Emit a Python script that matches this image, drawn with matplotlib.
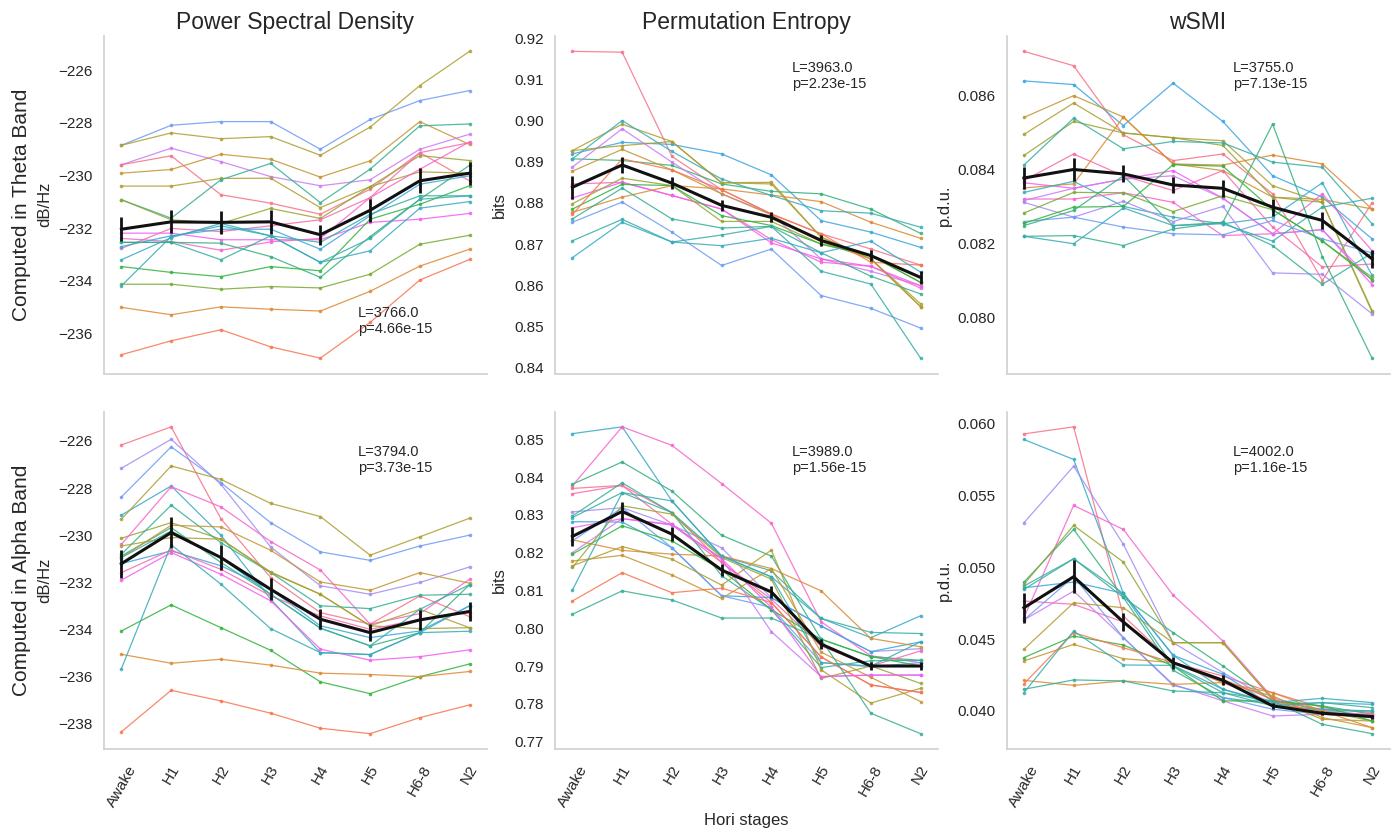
import matplotlib
matplotlib.use("Agg")
import matplotlib.pyplot as plt
import seaborn as sns
import numpy as np

plt.rcParams["font.family"] = ["Liberation Sans", "DejaVu Sans"]

STAGES = ["Awake", "H1", "H2", "H3", "H4", "H5", "H6-8", "N2"]

# ---------- Theta band ----------
THETA_PSD = [
    [-228.85, -228.09, -227.95, -227.95, -229.00, -227.87, -227.15, -226.77],
    [-228.85, -228.38, -228.60, -228.52, -229.23, -228.16, -226.58, -225.28],
    [-229.59, -228.96, -229.47, -230.04, -230.39, -230.16, -229.00, -228.43],
    [-229.59, -229.25, -230.73, -231.05, -231.47, -230.52, -229.13, -230.20],
    [-229.91, -229.77, -229.19, -229.38, -230.06, -229.44, -227.95, -228.82],
    [-230.40, -230.40, -230.11, -230.10, -231.22, -230.42, -229.86, -229.91],
    [-230.92, -231.62, -230.16, -229.54, -231.03, -229.76, -228.11, -228.04],
    [-230.92, -231.68, -231.82, -231.25, -231.63, -230.42, -229.24, -229.43],
    [-232.19, -232.19, -232.44, -232.44, -232.44, -231.78, -231.66, -231.44],
    [-232.39, -232.51, -232.84, -232.52, -232.39, -230.84, -229.76, -228.72],
    [-232.77, -232.01, -232.13, -231.91, -231.68, -230.84, -229.13, -228.75],
    [-232.70, -232.29, -232.04, -232.04, -232.80, -231.53, -230.33, -230.01],
    [-233.20, -232.36, -231.82, -232.29, -233.30, -232.86, -231.24, -230.99],
    [-232.54, -232.54, -233.20, -232.29, -232.54, -231.47, -230.77, -230.77],
    [-232.54, -232.54, -232.57, -233.08, -233.87, -232.32, -230.90, -229.61],
    [-233.46, -233.68, -233.84, -233.46, -233.62, -231.66, -231.09, -230.39],
    [-234.13, -234.13, -234.32, -234.22, -234.27, -233.75, -232.61, -232.27],
    [-234.19, -232.32, -231.91, -232.29, -233.30, -232.39, -230.90, -230.77],
    [-235.01, -235.29, -234.99, -235.08, -235.15, -234.40, -233.44, -232.80],
    [-236.81, -236.28, -235.86, -236.51, -236.94, -235.58, -233.97, -233.19],
]
THETA_PSD_COLORS = [14, 4, 16, 0, 3, 4, 9, 5, 17, 18, 19, 13, 12, 10, 8, 7, 6, 11, 2, 1]
THETA_PSD_MEAN = [-232.04, -231.76, -231.78, -231.76, -232.25, -231.32, -230.20, -229.91]
THETA_PSD_ERR = [0.45, 0.44, 0.44, 0.46, 0.38, 0.44, 0.48, 0.44]

THETA_PE = [
    [0.9168, 0.9166, 0.8913, 0.8832, 0.8773, 0.8725, 0.8688, 0.8649],
    [0.8927, 0.8991, 0.8949, 0.8849, 0.8850, 0.8717, 0.8664, 0.8555],
    [0.8919, 0.8947, 0.8942, 0.8919, 0.8868, 0.8757, 0.8729, 0.8692],
    [0.8907, 0.8903, 0.8891, 0.8846, 0.8828, 0.8822, 0.8785, 0.8726],
    [0.8887, 0.8980, 0.8899, 0.8822, 0.8773, 0.8664, 0.8634, 0.8599],
    [0.8877, 0.8930, 0.8880, 0.8822, 0.8771, 0.8705, 0.8664, 0.8548],
    [0.8846, 0.8850, 0.8818, 0.8785, 0.8711, 0.8656, 0.8646, 0.8593],
    [0.8812, 0.8850, 0.8818, 0.8785, 0.8703, 0.8664, 0.8646, 0.8599],
    [0.8798, 0.8860, 0.8842, 0.8755, 0.8755, 0.8700, 0.8672, 0.8607],
    [0.8785, 0.8845, 0.8842, 0.8769, 0.8745, 0.8700, 0.8672, 0.8607],
    [0.8777, 0.8814, 0.8842, 0.8834, 0.8819, 0.8803, 0.8753, 0.8714],
    [0.8772, 0.8907, 0.8880, 0.8832, 0.8773, 0.8725, 0.8656, 0.8649],
    [0.8761, 0.8836, 0.8761, 0.8739, 0.8743, 0.8679, 0.8622, 0.8579],
    [0.8753, 0.8802, 0.8729, 0.8648, 0.8688, 0.8575, 0.8544, 0.8496],
    [0.8708, 0.8760, 0.8705, 0.8722, 0.8743, 0.8634, 0.8603, 0.8423],
    [0.8667, 0.8753, 0.8705, 0.8696, 0.8714, 0.8679, 0.8707, 0.8632],
    [0.8907, 0.9000, 0.8925, 0.8858, 0.8818, 0.8781, 0.8775, 0.8741],
    [0.8927, 0.8939, 0.8949, 0.8849, 0.8846, 0.8717, 0.8664, 0.8548],
]
THETA_PE_COLORS = [0, 4, 13, 8, 16, 3, 18, 17, 5, 7, 2, 1, 9, 14, 10, 12, 11, 4]
THETA_PE_MEAN = [0.8838, 0.8892, 0.8848, 0.8794, 0.8765, 0.8709, 0.8672, 0.8619]
THETA_PE_ERR = [0.0028, 0.0020, 0.0015, 0.0014, 0.0012, 0.0014, 0.0014, 0.0016]

THETA_WSMI = [
    [0.08720, 0.08681, 0.08494, 0.08424, 0.08442, 0.08334, 0.08099, 0.08310],
    [0.08640, 0.08630, 0.08519, 0.08634, 0.08530, 0.08383, 0.08325, 0.08212],
    [0.08541, 0.08600, 0.08542, 0.08415, 0.08397, 0.08325, 0.08319, 0.08293],
    [0.08495, 0.08580, 0.08499, 0.08486, 0.08478, 0.08356, 0.08311, 0.08014],
    [0.08438, 0.08530, 0.08499, 0.08486, 0.08465, 0.08325, 0.08311, 0.08018],
    [0.08412, 0.08539, 0.08456, 0.08476, 0.08472, 0.08420, 0.08406, 0.08253],
    [0.08370, 0.08442, 0.08383, 0.08343, 0.08397, 0.08244, 0.08136, 0.08144],
    [0.08364, 0.08349, 0.08374, 0.08397, 0.08322, 0.08226, 0.08237, 0.08088],
    [0.08350, 0.08361, 0.08542, 0.08415, 0.08412, 0.08439, 0.08415, 0.08293],
    [0.08338, 0.08368, 0.08300, 0.08271, 0.08253, 0.08271, 0.08364, 0.08113],
    [0.08320, 0.08320, 0.08337, 0.08311, 0.08221, 0.08226, 0.08334, 0.08180],
    [0.08316, 0.08349, 0.08374, 0.08383, 0.08322, 0.08226, 0.08237, 0.08099],
    [0.08311, 0.08271, 0.08314, 0.08259, 0.08300, 0.08120, 0.08116, 0.08009],
    [0.08282, 0.08338, 0.08337, 0.08286, 0.08329, 0.08291, 0.08206, 0.08108],
    [0.08259, 0.08271, 0.08244, 0.08226, 0.08223, 0.08262, 0.08212, 0.08174],
    [0.08254, 0.08298, 0.08300, 0.08413, 0.08409, 0.08291, 0.08206, 0.08102],
    [0.08248, 0.08289, 0.08383, 0.08248, 0.08257, 0.08523, 0.08164, 0.07889],
    [0.08219, 0.08221, 0.08194, 0.08239, 0.08257, 0.08194, 0.08089, 0.08174],
    [0.08219, 0.08199, 0.08296, 0.08248, 0.08253, 0.08206, 0.08298, 0.08322],
]
THETA_WSMI_COLORS = [0, 13, 3, 4, 5, 10, 19, 17, 2, 12, 18, 16, 15, 6, 14, 7, 8, 9, 11]
THETA_WSMI_MEAN = [0.08377, 0.08400, 0.08388, 0.08358, 0.08349, 0.08298, 0.08262, 0.08158]
THETA_WSMI_ERR = [0.00030, 0.00032, 0.00023, 0.00023, 0.00023, 0.00023, 0.00023, 0.00025]

# ---------- Alpha band ----------
ALPHA_PSD = [
    [-226.17, -225.40, -229.30, -231.80, -233.29, -233.78, -232.58, -233.46],
    [-227.16, -225.93, -227.84, -230.50, -232.15, -232.51, -232.01, -231.35],
    [-228.38, -226.25, -227.77, -229.47, -230.71, -231.07, -230.46, -230.00],
    [-229.15, -227.91, -230.00, -232.72, -234.99, -235.07, -234.14, -233.00],
    [-229.32, -227.06, -227.63, -228.65, -229.21, -230.85, -230.07, -229.28],
    [-230.13, -229.47, -230.17, -231.56, -232.51, -233.85, -233.97, -233.93],
    [-230.39, -227.94, -228.80, -230.27, -231.48, -233.78, -233.33, -231.87],
    [-230.81, -228.73, -230.32, -231.59, -233.00, -233.12, -232.55, -232.51],
    [-230.88, -229.68, -231.16, -232.51, -233.95, -234.70, -234.14, -232.10],
    [-230.95, -229.58, -229.65, -230.64, -231.99, -232.34, -231.59, -232.04],
    [-231.21, -230.67, -231.30, -232.30, -233.85, -234.35, -234.07, -233.00],
    [-231.91, -230.74, -231.66, -232.79, -234.84, -235.31, -235.16, -234.87],
    [-231.59, -230.63, -231.45, -232.58, -233.43, -234.00, -233.57, -233.29],
    [-234.07, -232.96, -233.93, -234.89, -236.23, -236.73, -236.01, -235.47],
    [-235.06, -235.44, -235.27, -235.52, -235.86, -235.92, -236.01, -235.79],
    [-235.67, -230.41, -232.08, -233.97, -234.99, -235.07, -234.14, -234.08],
    [-238.35, -236.59, -237.04, -237.56, -238.20, -238.43, -237.75, -237.21],
    [-230.46, -230.10, -230.17, -231.59, -232.51, -233.85, -233.15, -233.93],
    [-230.95, -229.82, -230.95, -232.51, -233.95, -234.70, -233.15, -232.10],
]
ALPHA_PSD_COLORS = [0, 15, 14, 12, 4, 5, 18, 9, 8, 3, 13, 17, 19, 7, 2, 11, 1, 4, 10]
ALPHA_PSD_MEAN = [-231.21, -229.89, -230.95, -232.30, -233.57, -234.14, -233.60, -233.24]
ALPHA_PSD_ERR = [0.59, 0.64, 0.54, 0.47, 0.42, 0.35, 0.42, 0.40]

ALPHA_PE = [
    [0.8515, 0.8533, 0.8337, 0.8191, 0.8136, 0.8026, 0.7975, 0.8033],
    [0.8377, 0.8533, 0.8484, 0.8383, 0.8278, 0.8017, 0.7927, 0.7909],
    [0.8381, 0.8440, 0.8363, 0.8246, 0.8191, 0.7971, 0.7925, 0.7915],
    [0.8370, 0.8378, 0.8306, 0.8174, 0.8068, 0.7924, 0.7850, 0.7830],
    [0.8356, 0.8378, 0.8275, 0.8174, 0.8077, 0.7953, 0.7900, 0.7940],
    [0.8308, 0.8319, 0.8273, 0.8213, 0.8081, 0.8006, 0.7938, 0.7946],
    [0.8297, 0.8385, 0.8306, 0.8139, 0.8049, 0.7896, 0.7914, 0.7915],
    [0.8293, 0.8359, 0.8306, 0.8191, 0.8152, 0.8026, 0.7989, 0.7986],
    [0.8282, 0.8281, 0.8213, 0.8086, 0.8081, 0.8006, 0.7938, 0.7964],
    [0.8234, 0.8206, 0.8196, 0.8191, 0.8158, 0.8099, 0.7973, 0.7951],
    [0.8231, 0.8319, 0.8213, 0.8086, 0.8055, 0.7909, 0.7898, 0.7909],
    [0.8200, 0.8290, 0.8273, 0.8184, 0.7991, 0.7872, 0.7876, 0.7876],
    [0.8196, 0.8271, 0.8231, 0.8154, 0.8049, 0.7971, 0.7925, 0.7900],
    [0.8178, 0.8193, 0.8141, 0.8079, 0.8158, 0.7937, 0.7870, 0.7806],
    [0.8165, 0.8216, 0.8183, 0.8114, 0.8207, 0.7890, 0.7802, 0.7841],
    [0.8161, 0.8324, 0.8302, 0.8187, 0.8130, 0.7867, 0.7900, 0.7854],
    [0.8101, 0.8359, 0.8337, 0.8191, 0.8136, 0.7909, 0.7900, 0.7964],
    [0.8072, 0.8147, 0.8094, 0.8106, 0.8068, 0.7924, 0.7850, 0.7830],
    [0.8037, 0.8099, 0.8075, 0.8027, 0.8027, 0.7971, 0.7775, 0.7721],
    [0.8266, 0.8290, 0.8275, 0.8184, 0.8055, 0.7872, 0.7876, 0.7876],
]
ALPHA_PE_COLORS = [12, 18, 8, 0, 19, 15, 9, 10, 13, 2, 14, 16, 7, 3, 4, 5, 11, 1, 9, 17]
ALPHA_PE_MEAN = [0.8243, 0.8309, 0.8249, 0.8154, 0.8096, 0.7958, 0.7900, 0.7900]
ALPHA_PE_ERR = [0.0025, 0.0026, 0.0018, 0.0016, 0.0016, 0.0013, 0.0011, 0.0011]

ALPHA_WSMI = [
    [0.05928, 0.05977, 0.04661, 0.04336, 0.04243, 0.04127, 0.04023, 0.03988],
    [0.05889, 0.05750, 0.04818, 0.04387, 0.04151, 0.04046, 0.04058, 0.04046],
    [0.05309, 0.05703, 0.05159, 0.04475, 0.04267, 0.04070, 0.04012, 0.03965],
    [0.04649, 0.05430, 0.05263, 0.04806, 0.04487, 0.04093, 0.04000, 0.03954],
    [0.04897, 0.05263, 0.04790, 0.04545, 0.04313, 0.04070, 0.04035, 0.03977],
    [0.04857, 0.04897, 0.04818, 0.04387, 0.04255, 0.04035, 0.04012, 0.04000],
    [0.04846, 0.05059, 0.04790, 0.04283, 0.04093, 0.04046, 0.04000, 0.04000],
    [0.04765, 0.04742, 0.04619, 0.04336, 0.04197, 0.04058, 0.03988, 0.03977],
    [0.04633, 0.04834, 0.04510, 0.04185, 0.04070, 0.03965, 0.03977, 0.03954],
    [0.04633, 0.04934, 0.04510, 0.04178, 0.04093, 0.04012, 0.03977, 0.03965],
    [0.04881, 0.05291, 0.05036, 0.04475, 0.04475, 0.04081, 0.04000, 0.03930],
    [0.04429, 0.04753, 0.04718, 0.04475, 0.04475, 0.04081, 0.03942, 0.03930],
    [0.04348, 0.04463, 0.04364, 0.04336, 0.04197, 0.04104, 0.03954, 0.03884],
    [0.04371, 0.04521, 0.04459, 0.04313, 0.04070, 0.04070, 0.04035, 0.03930],
    [0.04213, 0.04178, 0.04209, 0.04185, 0.04197, 0.04127, 0.04000, 0.03884],
    [0.04190, 0.04545, 0.04440, 0.04336, 0.04220, 0.04081, 0.03977, 0.03965],
    [0.04151, 0.04216, 0.04209, 0.04139, 0.04127, 0.04070, 0.03907, 0.03842],
    [0.04127, 0.04556, 0.04320, 0.04317, 0.04151, 0.04058, 0.04088, 0.04058],
    [0.04869, 0.05059, 0.04818, 0.04313, 0.04127, 0.04035, 0.04058, 0.04023],
]
ALPHA_WSMI_COLORS = [0, 12, 15, 18, 8, 13, 9, 19, 16, 14, 5, 4, 3, 7, 2, 1, 9, 11, 10]
ALPHA_WSMI_MEAN = [0.04718, 0.04934, 0.04619, 0.04336, 0.04213, 0.04035, 0.03984, 0.03961]
ALPHA_WSMI_ERR = [0.00104, 0.00116, 0.00065, 0.00042, 0.00035, 0.00019, 0.00014, 0.00014]

TITLES = ["Power Spectral Density", "Permutation Entropy", "wSMI"]
ROW_LABELS = ["Computed in Theta Band", "Computed in Alpha Band"]
UNITS = ["dB/Hz", "bits", "p.d.u."]
STATS = [
    ["L=3766.0\np=4.66e-15", "L=3963.0\np=2.23e-15", "L=3755.0\np=7.13e-15"],
    ["L=3794.0\np=3.73e-15", "L=3989.0\np=1.56e-15", "L=4002.0\np=1.16e-15"],
]

PANELS = [
    [(THETA_PSD, THETA_PSD_COLORS, THETA_PSD_MEAN, THETA_PSD_ERR, np.arange(-236, -225, 2)),
     (THETA_PE, THETA_PE_COLORS, THETA_PE_MEAN, THETA_PE_ERR, np.arange(0.84, 0.921, 0.01)),
     (THETA_WSMI, THETA_WSMI_COLORS, THETA_WSMI_MEAN, THETA_WSMI_ERR, np.arange(0.080, 0.0861, 0.002))],
    [(ALPHA_PSD, ALPHA_PSD_COLORS, ALPHA_PSD_MEAN, ALPHA_PSD_ERR, np.arange(-238, -225, 2)),
     (ALPHA_PE, ALPHA_PE_COLORS, ALPHA_PE_MEAN, ALPHA_PE_ERR, np.arange(0.77, 0.851, 0.01)),
     (ALPHA_WSMI, ALPHA_WSMI_COLORS, ALPHA_WSMI_MEAN, ALPHA_WSMI_ERR, np.arange(0.040, 0.0601, 0.005))],
]
TICK_FMT = ["{:.0f}", "{:.2f}", "{:.3f}"]

palette = sns.color_palette("husl", 20)

W, H = 1394, 834
fig = plt.figure(figsize=(W / 100, H / 100), dpi=100)
fig.patch.set_facecolor("white")

col_left = [104, 555, 1006.5]
ax_w = 383
row_top = [36, 411.5]
ax_h = 337.5
# where the L / p annotation sits (axes fraction, top-left of the text)
stat_pos = [[(0.663, 0.20), (0.619, 0.925), (0.591, 0.925)],
            [(0.663, 0.90), (0.619, 0.90), (0.591, 0.90)]]
unit_x = [45, 499, 944]

x = np.arange(len(STAGES))

for r in range(2):
    for c in range(3):
        subjects, colors, mean, err, ticks = PANELS[r][c]
        ax = fig.add_axes([col_left[c] / W, 1 - (row_top[r] + ax_h) / H, ax_w / W, ax_h / H])

        for vals, ci in zip(subjects, colors):
            ax.plot(x, vals, "-o", color=palette[ci], lw=0.9, ms=2.6, alpha=0.85,
                    markeredgewidth=0, zorder=2)
        ax.errorbar(x, mean, yerr=err, color="#111111", lw=2.2, elinewidth=2.0,
                    capsize=0, zorder=5)

        ax.set_xlim(-0.35, 7.35)
        ax.margins(y=0.05)
        ax.set_yticks(ticks)
        if c == 0:
            ax.set_yticklabels([TICK_FMT[c].format(t).replace("-", "\u2212") for t in ticks])
        else:
            ax.set_yticklabels([TICK_FMT[c].format(t) for t in ticks])
        ax.set_xticks(x)
        if r == 1:
            ax.set_xticklabels(STAGES, rotation=60, fontsize=11)
        else:
            ax.set_xticklabels([])
        ax.tick_params(axis="y", length=0, pad=8, labelsize=11, colors="#262626")
        ax.tick_params(axis="x", length=0, pad=10, colors="#262626")

        for side in ["top", "right"]:
            ax.spines[side].set_visible(False)
        for side in ["left", "bottom"]:
            ax.spines[side].set_color("#d0d0d0")
            ax.spines[side].set_linewidth(1.2)

        sx, sy = stat_pos[r][c]
        ax.text(sx, sy, STATS[r][c], transform=ax.transAxes,
                ha="left", va="top", fontsize=10.5, color="#262626", linespacing=1.15)

        if r == 0:
            ax.set_title(TITLES[c], fontsize=16.5, pad=5, color="#262626")

        yc = 1 - (row_top[r] + ax_h / 2) / H
        fig.text(unit_x[c] / W, yc, UNITS[c], rotation=90, ha="center", va="center",
                 fontsize=12, color="#262626")
    fig.text(22 / W, 1 - (row_top[r] + ax_h / 2) / H, ROW_LABELS[r], rotation=90,
             ha="center", va="center", fontsize=15, color="#262626")

fig.text(746 / W, 1 - 821 / H, "Hori stages", ha="center", va="center",
         fontsize=12, color="#262626")

fig.savefig("out.png", dpi=100, facecolor="white")
